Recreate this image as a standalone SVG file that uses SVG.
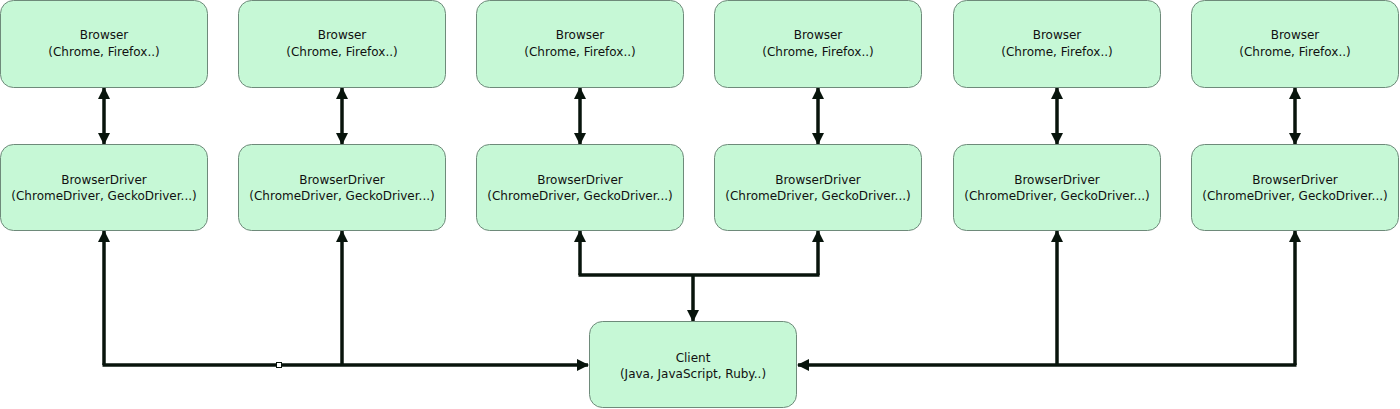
<svg xmlns="http://www.w3.org/2000/svg" width="1400" height="409" viewBox="0 0 1400 409">
<style>
.box{fill:#c6f8d6;stroke:#6e8a7a;stroke-width:1}
.t{font-family:"DejaVu Sans",sans-serif;font-size:12px;fill:#111;text-anchor:middle}
.c{fill:none;stroke:#08140c;stroke-width:3.5}
</style>
<defs>
<marker id="ah" viewBox="0 0 12 12" refX="11" refY="6" markerWidth="12" markerHeight="12" markerUnits="userSpaceOnUse" orient="auto-start-reverse">
<path d="M0,0 L12,6 L0,12 Z" fill="#08140c"/>
</marker>
</defs>
<rect width="1400" height="409" fill="#fff"/>
<g id="connectors">
<line class="c" x1="104" y1="88" x2="104" y2="144" marker-start="url(#ah)" marker-end="url(#ah)"/>
<line class="c" x1="342" y1="88" x2="342" y2="144" marker-start="url(#ah)" marker-end="url(#ah)"/>
<line class="c" x1="580" y1="88" x2="580" y2="144" marker-start="url(#ah)" marker-end="url(#ah)"/>
<line class="c" x1="818" y1="88" x2="818" y2="144" marker-start="url(#ah)" marker-end="url(#ah)"/>
<line class="c" x1="1057" y1="88" x2="1057" y2="144" marker-start="url(#ah)" marker-end="url(#ah)"/>
<line class="c" x1="1295" y1="88" x2="1295" y2="144" marker-start="url(#ah)" marker-end="url(#ah)"/>
<polyline class="c" points="104,365 104,231" marker-end="url(#ah)"/>
<polyline class="c" points="342,365 342,231" marker-end="url(#ah)"/>
<polyline class="c" points="102.5,365 588,365" marker-end="url(#ah)"/>
<polyline class="c" points="1057,365 1057,231" marker-end="url(#ah)"/>
<polyline class="c" points="1295,365 1295,231" marker-end="url(#ah)"/>
<polyline class="c" points="1296.5,365 798,365" marker-end="url(#ah)"/>
<polyline class="c" points="580,275 580,231" marker-end="url(#ah)"/>
<polyline class="c" points="818,275 818,231" marker-end="url(#ah)"/>
<polyline class="c" points="578.5,275 819.5,275"/>
<polyline class="c" points="693,275 693,321" marker-end="url(#ah)"/>
<rect x="276.5" y="362.5" width="5" height="5" fill="#fff" stroke="#08140c" stroke-width="1"/>
</g>
<g id="browser1"><rect class="box" x="0.5" y="0.5" width="207" height="87" rx="13"/><text class="t" x="104" y="39">Browser</text><text class="t" x="104" y="56">(Chrome, Firefox..)</text></g>
<g id="browser2"><rect class="box" x="238.5" y="0.5" width="207" height="87" rx="13"/><text class="t" x="342" y="39">Browser</text><text class="t" x="342" y="56">(Chrome, Firefox..)</text></g>
<g id="browser3"><rect class="box" x="476.5" y="0.5" width="207" height="87" rx="13"/><text class="t" x="580" y="39">Browser</text><text class="t" x="580" y="56">(Chrome, Firefox..)</text></g>
<g id="browser4"><rect class="box" x="714.5" y="0.5" width="207" height="87" rx="13"/><text class="t" x="818" y="39">Browser</text><text class="t" x="818" y="56">(Chrome, Firefox..)</text></g>
<g id="browser5"><rect class="box" x="953.5" y="0.5" width="207" height="87" rx="13"/><text class="t" x="1057" y="39">Browser</text><text class="t" x="1057" y="56">(Chrome, Firefox..)</text></g>
<g id="browser6"><rect class="box" x="1191.5" y="0.5" width="207" height="87" rx="13"/><text class="t" x="1295" y="39">Browser</text><text class="t" x="1295" y="56">(Chrome, Firefox..)</text></g>
<g id="driver1"><rect class="box" x="0.5" y="144.5" width="207" height="86" rx="13"/><text class="t" x="104" y="184">BrowserDriver</text><text class="t" x="104" y="200">(ChromeDriver, GeckoDriver...)</text></g>
<g id="driver2"><rect class="box" x="238.5" y="144.5" width="207" height="86" rx="13"/><text class="t" x="342" y="184">BrowserDriver</text><text class="t" x="342" y="200">(ChromeDriver, GeckoDriver...)</text></g>
<g id="driver3"><rect class="box" x="476.5" y="144.5" width="207" height="86" rx="13"/><text class="t" x="580" y="184">BrowserDriver</text><text class="t" x="580" y="200">(ChromeDriver, GeckoDriver...)</text></g>
<g id="driver4"><rect class="box" x="714.5" y="144.5" width="207" height="86" rx="13"/><text class="t" x="818" y="184">BrowserDriver</text><text class="t" x="818" y="200">(ChromeDriver, GeckoDriver...)</text></g>
<g id="driver5"><rect class="box" x="953.5" y="144.5" width="207" height="86" rx="13"/><text class="t" x="1057" y="184">BrowserDriver</text><text class="t" x="1057" y="200">(ChromeDriver, GeckoDriver...)</text></g>
<g id="driver6"><rect class="box" x="1191.5" y="144.5" width="207" height="86" rx="13"/><text class="t" x="1295" y="184">BrowserDriver</text><text class="t" x="1295" y="200">(ChromeDriver, GeckoDriver...)</text></g>
<g id="client"><rect class="box" x="589.5" y="321.5" width="207" height="86" rx="13"/><text class="t" x="693" y="362">Client</text><text class="t" x="693" y="378">(Java, JavaScript, Ruby..)</text></g>
</svg>
